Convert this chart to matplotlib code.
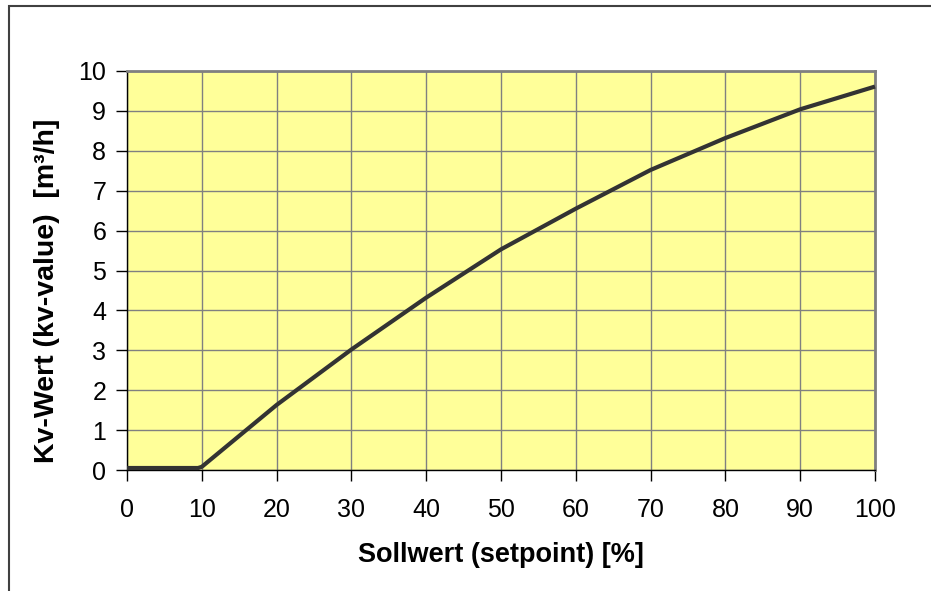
import matplotlib.pyplot as plt
from matplotlib.patches import Rectangle

plt.rcParams['font.family'] = ['Liberation Sans', 'DejaVu Sans']

# setpoint [%] and kv-value [m3/h]
setpoint = [0, 5, 9.5, 10, 20, 30, 40, 50, 60, 70, 80, 90, 100]
kv_value = [0.05, 0.05, 0.05, 0.08, 1.63, 3.02, 4.32, 5.53, 6.55, 7.52, 8.32, 9.04, 9.61]
x_ticks = list(range(0, 101, 10))
y_ticks = list(range(0, 11))

W, H = 931, 591
fig = plt.figure(figsize=(W / 100, H / 100), dpi=100)
fig.patch.set_facecolor('white')

# outer frame, runs off the right and bottom edge
fig.patches.append(Rectangle((9 / W, -0.1), 1.2, 1 - 6 / H + 0.1, transform=fig.transFigure,
                             fill=False, edgecolor='#404040', linewidth=1.5))

ax = fig.add_axes([127 / W, 1 - 470 / H, (875 - 127) / W, (470 - 71) / H])
ax.set_facecolor('#FFFF99')
ax.plot(setpoint, kv_value, color='#333333', lw=3, solid_joinstyle='round', solid_capstyle='butt',
        clip_on=False, zorder=3)

ax.set_xlim(0, 100)
ax.set_ylim(0, 10)
ax.set_xticks(x_ticks)
ax.set_yticks(y_ticks)
ax.grid(True, color='#808080', lw=1)
ax.set_axisbelow(True)
ax.tick_params(direction='out', length=8, width=1, color='black', labelsize=18, pad=7)
ax.tick_params(axis='x', pad=12)

for s in ['top', 'right']:
    ax.spines[s].set_color('#808080')
    ax.spines[s].set_linewidth(2)
for s in ['left', 'bottom']:
    ax.spines[s].set_color('black')
    ax.spines[s].set_linewidth(1)

fig.text(47 / W, 1 - 291 / H, 'Kv-Wert (kv-value)  [m³/h]', rotation=90, ha='center', va='center',
         fontsize=20.5, fontweight='bold')
fig.text(501 / W, 1 - 555 / H, 'Sollwert (setpoint) [%]', ha='center', va='center',
         fontsize=19.5, fontweight='bold')

plt.savefig('out.png', dpi=100)
